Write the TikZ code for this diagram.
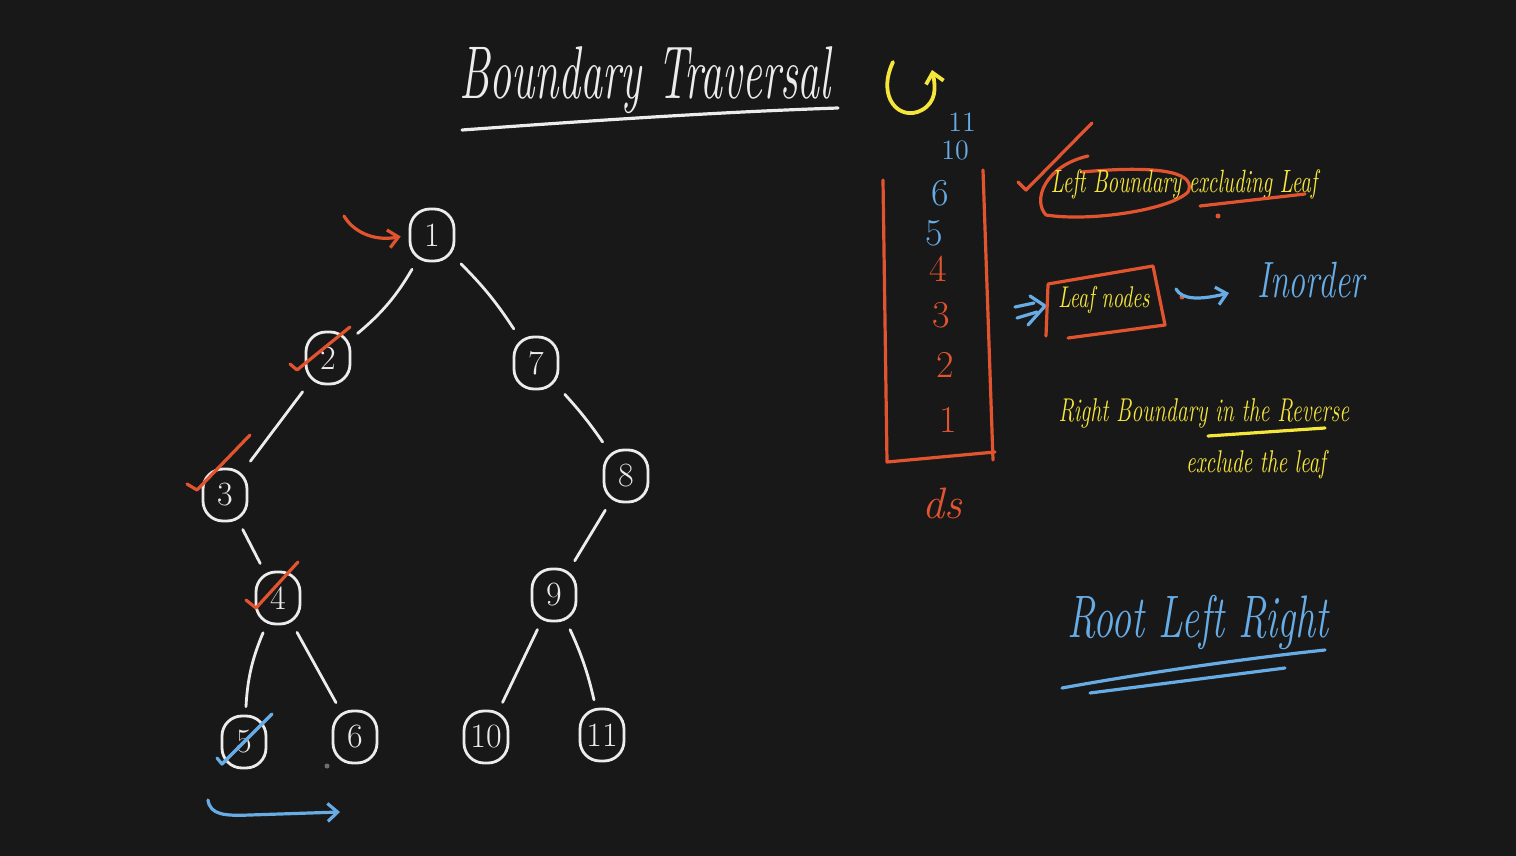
\documentclass[tikz,border=0pt]{standalone}
\usetikzlibrary{arrows.meta}
\definecolor{bg}{RGB}{24,24,24}
\definecolor{chalk}{RGB}{236,236,236}
\definecolor{rd}{RGB}{226,84,48}
\definecolor{yl}{RGB}{246,230,60}
\definecolor{bl}{RGB}{104,172,230}
\definecolor{dotg}{RGB}{110,110,110}
\tikzset{
  tn/.style={draw=chalk, line width=1.4pt, rounded corners=10pt, minimum width=22pt,
    minimum height=26pt, inner sep=0pt, text=chalk, font=\fontsize{17}{17}\selectfont},
  edge/.style={draw=chalk, line width=1.4pt, line cap=round, shorten >=4pt, shorten <=4pt},
  pen/.style={line width=1.6pt, line cap=round, line join=round},
  tip/.style={-{Straight Barb[length=5pt,width=9pt]}},
  hand/.style={inner sep=0pt, font=\itshape},
  stk/.style={inner sep=0pt, font=\fontsize{19}{19}\selectfont},
}
\begin{document}
\begin{tikzpicture}[x=0.5pt,y=-0.5pt]
\fill[bg] (0,0) rectangle (1516,856);
\useasboundingbox (0,0) rectangle (1516,856);

% title
\node[hand, text=chalk] (title) at (645,80) {\scalebox{1}[1.7]{\fontsize{22}{22}\selectfont Boundary Traversal}};
\draw[pen, chalk] (462,130) .. controls (600,120) and (720,112) .. (838,108);

% tree nodes
\node[tn] (n1) at (432,235) {1};
\node[tn] (n2) at (328,358) {2};
\node[tn] (n7) at (536,363) {7};
\node[tn] (n3) at (225,495) {3};
\node[tn] (n8) at (626,476) {8};
\node[tn] (n4) at (278,598) {4};
\node[tn] (n9) at (554,595) {9};
\node[tn] (n5) at (244,742) {5};
\node[tn] (n6) at (355,737) {6};
\node[tn] (n10) at (486,737) {10};
\node[tn] (n11) at (602,735) {11};

% tree edges
\draw[edge] (n1) to[bend left=10] (n2);
\draw[edge] (n1) to[bend left=6] (n7);
\draw[edge] (n2) to (n3);
\draw[edge] (n7) to[bend left=4] (n8);
\draw[edge] (n3) to (n4);
\draw[edge] (n8) to (n9);
\draw[edge] (n4) to[bend right=10] (n5);
\draw[edge] (n4) to (n6);
\draw[edge] (n9) to (n10);
\draw[edge] (n9) to[bend left=6] (n11);

% annotations on the tree
\coordinate (a1) at (344,216);
\draw[pen, rd, tip, shorten >=4pt] (a1) .. controls (352,230) and (372,242) .. (n1.west);
\draw[pen, rd] (290,364) -- (297,370) -- (350,327);
\draw[pen, rd] (187,484) -- (197,490) -- (250,435);
\draw[pen, rd] (246,600) -- (256,608) -- (298,562);
\draw[pen, bl] (217,758) -- (222,764) -- (272,714);
\fill[dotg] (327,766) circle (2.5);
\coordinate (b1) at (208,800);
\coordinate (b2) at (340,812);
\draw[pen, bl, tip] (b1) .. controls (210,815) and (225,816) .. (250,815) -- (b2);

% stack
\draw[pen, rd] (883,180) -- (887,462) -- (995,452);
\draw[pen, rd] (983,170) -- (993,460);
\node[text=bl, font=\fontsize{14}{14}\selectfont, inner sep=0pt] (s11) at (962,122) {11};
\node[text=bl, font=\fontsize{14}{14}\selectfont, inner sep=0pt] (s10) at (955,150) {10};
\node[stk, text=bl] (s6) at (940,193) {6};
\node[stk, text=bl] (s5) at (934,233) {5};
\node[stk, text=rd] (s4) at (938,269) {4};
\node[stk, text=rd] (s3) at (941,315) {3};
\node[stk, text=rd] (s2) at (945,365) {2};
\node[stk, text=rd] (s1) at (948,420) {1};
\node[hand, text=rd, font=\fontsize{22}{22}\selectfont\itshape] (ds) at (942,503) {ds};

% yellow rotate arrow
\draw[pen, yl, line width=1.9pt, tip] (893,62) .. controls (876,98) and (900,122) .. (922,110)
  .. controls (936,102) and (936,88) .. (932,70);

% left boundary text
\draw[pen, rd] (1018,182) -- (1026,190) -- (1092,123);
\draw[pen, rd] (1088,156) .. controls (1045,166) and (1032,200) .. (1046,215)
  .. controls (1090,222) and (1170,210) .. (1188,192)
  .. controls (1196,175) and (1170,164) .. (1082,172);
\node[hand, text=yl] (lb) at (1184,184) {\scalebox{1}[1.55]{\fontsize{10.4}{10.4}\selectfont Left Boundary excluding Leaf}};
\draw[pen, rd] (1200,206) -- (1305,194);
\fill[rd] (1218,216) circle (2.5);

% leaf nodes
\draw[pen, bl] (1015,307) -- (1034,303);
\draw[pen, bl] (1017,318) -- (1037,312);
\draw[pen, bl] (1030,296) -- (1045,306) -- (1028,325);
\draw[pen, rd] (1048,285) -- (1046,336);
\draw[pen, rd] (1048,284) -- (1153,266) -- (1165,325) -- (1068,338);
\node[hand, text=yl] (leaf) at (1104,300) {\scalebox{1}[1.5]{\fontsize{10}{10}\selectfont Leaf nodes}};
\fill[rd] (1182,297) circle (2.5);
\coordinate (c1) at (1176,289);
\coordinate (c2) at (1229,293);
\draw[pen, bl, tip] (c1) .. controls (1182,300) and (1200,300) .. (c2);
\node[hand, text=bl] (ino) at (1311,280) {\scalebox{1}[1.5]{\fontsize{17}{17}\selectfont Inorder}};

% right boundary
\node[hand, text=yl] (rb) at (1204,413) {\scalebox{1}[1.5]{\fontsize{11}{11}\selectfont Right Boundary in the Reverse}};
\draw[pen, yl] (1208,436) -- (1325,428);
\node[hand, text=yl] (ex) at (1256,465) {\scalebox{1}[1.5]{\fontsize{10.5}{10.5}\selectfont exclude the leaf}};

% root left right
\node[hand, text=bl] (rlr) at (1198,622) {\scalebox{1}[1.5]{\fontsize{20}{20}\selectfont Root Left Right}};
\draw[pen, bl] (1062,688) .. controls (1150,672) and (1250,658) .. (1325,650);
\draw[pen, bl] (1090,693) -- (1285,668);
\end{tikzpicture}
\end{document}
